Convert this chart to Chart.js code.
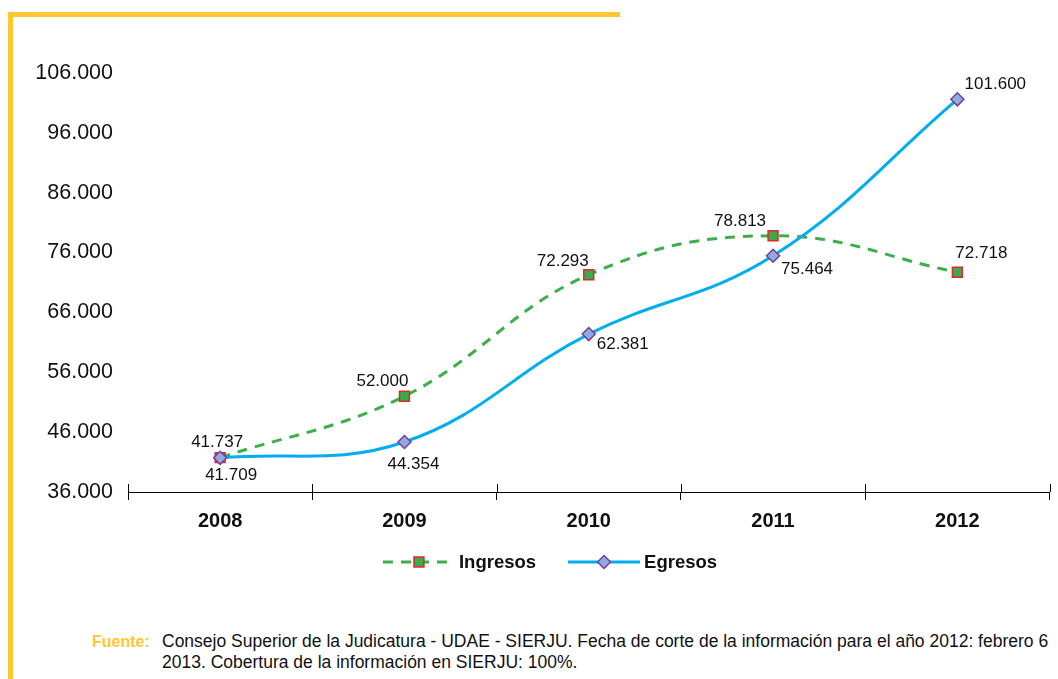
<!DOCTYPE html>
<html>
<head>
<meta charset="utf-8">
<script src="https://cdn.jsdelivr.net/npm/chart.js@4.4.1/dist/chart.umd.min.js"></script>
<style>
    html, body { margin: 0; padding: 0; background: #fff; }
    body { width: 1058px; height: 679px; position: relative; overflow: hidden; font-family: "Liberation Sans", Arial, sans-serif; }
    .frame-top { position: absolute; left: 8px; top: 12px; width: 612px; height: 5px; background: #FFC632; }
    .frame-left { position: absolute; left: 8px; top: 12px; width: 5px; height: 680px; background: #FFC632; }
    #chart { position: absolute; left: 0; top: 0; }
    .fuente { position: absolute; left: 92px; top: 631px; display: flex; font-size: 17.5px; line-height: 21px; color: #111; white-space: nowrap; }
    .fuente b { color: #FFC632; width: 70px; flex: none; font-size: 16px; }
</style>
</head>
<body>
<div class="frame-top"></div>
<div class="frame-left"></div>
<canvas id="chart" width="1058" height="600"></canvas>
<div class="fuente"><b>Fuente:</b><span>Consejo Superior de la Judicatura - UDAE - SIERJU. Fecha de corte de la información para el año 2012: febrero 6<br>2013. Cobertura de la información en SIERJU: 100%.</span></div>
<script>
const years = ['2008', '2009', '2010', '2011', '2012'];
const ingresos = [41737, 52000, 72293, 78813, 72718];
const egresos = [41709, 44354, 62381, 75464, 101600];
const yMin = 36000;
const yMax = 106000;
const yStep = 10000;

// label offsets from each point (px)
const ingresosLabelPos = [[-3, -15], [-22, -15], [-26, -13], [-33, -14], [24, -19]];
const egresosLabelPos = [[11, 17], [9, 22], [34, 10], [34, 14], [38, -15]];

const FONT = '"Liberation Sans", Arial, sans-serif';
const fmt = v => String(v).replace(/\B(?=(\d{3})+(?!\d))/g, '.');

const GREEN = '#3DAE49';
const BLUE = '#00AEEF';

// Data labels, upper half of x ticks, custom legend
const extras = {
    id: 'extras',
    afterDatasetsDraw(chart) {
        const ctx = chart.ctx;
        ctx.save();
        ctx.font = '17px ' + FONT;
        ctx.fillStyle = '#111';
        ctx.textAlign = 'center';
        ctx.textBaseline = 'middle';
        chart.data.datasets.forEach((ds, di) => {
            const meta = chart.getDatasetMeta(di);
            meta.data.forEach((pt, i) => {
                const off = ds.labelPos[i];
                ctx.fillText(fmt(ds.data[i]), pt.x + off[0], pt.y + off[1]);
            });
        });
        ctx.restore();
    },
    afterDraw(chart) {
        const ctx = chart.ctx;
        const xs = chart.scales.x;
        const bottom = chart.chartArea.bottom;
        ctx.save();
        ctx.strokeStyle = '#000';
        ctx.lineWidth = 1;
        for (let i = 0; i <= years.length; i++) {
            const x = Math.round(xs.getPixelForValue(i - 0.5)) + 0.5;
            ctx.beginPath();
            ctx.moveTo(x, bottom - 8);
            ctx.lineTo(x, bottom);
            ctx.stroke();
        }

        // legend
        const items = [chart.data.datasets[1], chart.data.datasets[0]];
        ctx.font = 'bold 18.5px ' + FONT;
        const lineW = 72, gap = 4, itemGap = 32;
        let total = 0;
        items.forEach((ds, k) => {
            total += lineW + gap + ctx.measureText(ds.label).width + (k ? 0 : itemGap);
        });
        let x = chart.width / 2 + 21 - total / 2;
        const y = bottom + 70;
        items.forEach(ds => {
            ctx.strokeStyle = ds.borderColor;
            ctx.lineWidth = ds.borderWidth;
            ctx.setLineDash(ds.borderDash || []);
            ctx.beginPath();
            ctx.moveTo(x, y);
            ctx.lineTo(x + lineW, y);
            ctx.stroke();
            ctx.setLineDash([]);
            ctx.fillStyle = ds.pointBackgroundColor;
            ctx.strokeStyle = ds.pointBorderColor;
            ctx.lineWidth = ds.pointBorderWidth;
            Chart.helpers.drawPoint(ctx, { pointStyle: ds.pointStyle, radius: ds.pointRadius, borderWidth: ds.pointBorderWidth }, x + lineW / 2, y);
            ctx.fillStyle = '#111';
            ctx.textAlign = 'left';
            ctx.textBaseline = 'middle';
            ctx.fillText(ds.label, x + lineW + gap, y + 1);
            x += lineW + gap + ctx.measureText(ds.label).width + itemGap;
        });
        ctx.restore();
    }
};

new Chart(document.getElementById('chart'), {
    type: 'line',
    data: {
        labels: years,
        datasets: [
            {
                label: 'Egresos',
                data: egresos,
                labelPos: egresosLabelPos,
                order: 0,
                borderColor: BLUE,
                borderWidth: 3,
                tension: 0.4,
                pointStyle: 'rectRot',
                pointRadius: 6.5,
                pointBackgroundColor: '#8FAADC',
                pointBorderColor: '#7A3A9C',
                pointBorderWidth: 1.5
            },
            {
                label: 'Ingresos',
                data: ingresos,
                labelPos: ingresosLabelPos,
                order: 1,
                borderColor: GREEN,
                borderWidth: 3,
                borderDash: [10, 8],
                tension: 0.4,
                pointStyle: 'rect',
                pointRadius: 7,
                pointBackgroundColor: '#3BAA48',
                pointBorderColor: '#E2262E',
                pointBorderWidth: 1.5
            }
        ]
    },
    options: {
        responsive: false,
        animation: false,
        layout: { padding: { top: 73, right: 2, left: 0, bottom: 0 } },
        plugins: { legend: { display: false }, tooltip: { enabled: false } },
        scales: {
            x: {
                offset: true,
                grid: { display: true, offset: true, drawOnChartArea: false, drawTicks: true, tickLength: 8, color: '#000', lineWidth: 1 },
                border: { display: true, color: '#000', width: 1 },
                ticks: { color: '#111', padding: 9, font: { family: FONT, size: 20, weight: 'bold' } },
                afterFit: s => { s.height = 108; }
            },
            y: {
                min: yMin,
                max: yMax,
                grid: { display: false, drawTicks: false },
                border: { display: false },
                ticks: { stepSize: yStep, padding: 15, color: '#111', font: { family: FONT, size: 21.5 }, callback: v => fmt(v) },
                afterFit: s => { s.width = 128; }
            }
        }
    },
    plugins: [extras]
});
</script>
</body>
</html>
